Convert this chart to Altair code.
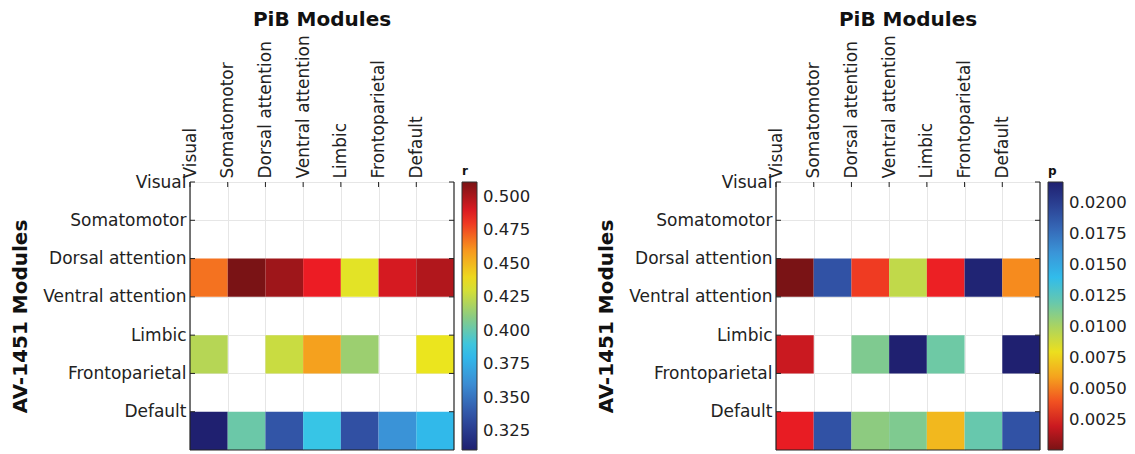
import altair as alt
import pandas as pd

# ---------------- data ----------------
modules = ["Visual", "Somatomotor", "Dorsal attention", "Ventral attention",
           "Limbic", "Frontoparietal", "Default"]
value_rows = ["Dorsal attention", "Limbic", "Default"]

# r values (AV-1451 rows x PiB columns); None = empty cell
r_dorsal = [0.468, 0.511, 0.503, 0.486, 0.434, 0.491, 0.499]
r_limbic = [0.422, None, 0.427, 0.457, 0.415, None, 0.436]
r_default = [0.311, 0.402, 0.338, 0.388, 0.336, 0.363, 0.381]

# p values
p_dorsal = [0.0001, 0.0189, 0.0035, 0.0094, 0.0029, 0.0215, 0.0053]
p_limbic = [0.0020, None, 0.0113, 0.0217, 0.0118, None, 0.0217]
p_default = [0.0027, 0.0189, 0.0109, 0.0113, 0.0067, 0.0120, 0.0189]

r_ticks = [0.325, 0.350, 0.375, 0.400, 0.425, 0.450, 0.475, 0.500]
p_ticks = [0.0025, 0.0050, 0.0075, 0.0100, 0.0125, 0.0150, 0.0175, 0.0200]
r_domain = [0.311, 0.511]
p_domain = [0.0001, 0.0217]

# jet-like colormap (as printed)
jet = ["#1f2070", "#3150a3", "#3b8fd5", "#2fc4ef", "#8dcb80",
       "#ebe51e", "#f7941e", "#ec1c24", "#7a1315"]

FONT = "DejaVu Sans"
W, H = 264, 268
idx = list(range(len(modules)))
label_expr = "[" + ",".join("'" + m + "'" for m in modules) + "][datum.value]"


def cells(rows_vals):
    recs = []
    for rname, vals in zip(value_rows, rows_vals):
        ri = modules.index(rname)
        for ci, v in enumerate(vals):
            if v is None:
                continue
            recs.append(dict(row=ri, row2=ri + 1, col=ci, col2=ci + 1, value=v))
    return pd.DataFrame(recs)


n = len(modules)
frame_df = pd.DataFrame({
    "col": [0, n, 0], "col2": [0, n, n],
    "row": [0, 0, n], "row2": [n, n, n],
})
tick_df = pd.DataFrame({"col": idx, "row": idx})

x_axis = alt.Axis(orient="top", values=idx, labelExpr=label_expr, labelAngle=270,
                  title=None, ticks=False, domain=False, grid=True,
                  gridColor="#e6e6e6", gridWidth=1, labelPadding=4,
                  labelFontSize=17, labelOverlap=False, labelFlush=False,
                  labelFont=FONT, labelColor="#222")
y_axis = alt.Axis(values=idx, labelExpr=label_expr, title="AV-1451 Modules",
                  ticks=False, domain=False, grid=True, gridColor="#e6e6e6",
                  gridWidth=1, labelPadding=4, labelFontSize=17,
                  labelOverlap=False, labelFlush=False, labelFont=FONT,
                  labelColor="#222", titleFont=FONT, titleFontSize=20,
                  titleFontWeight="bold", titlePadding=12, titleColor="#111")
xs = alt.Scale(domain=[0, n], nice=False, zero=False)
ys = alt.Scale(domain=[0, n], nice=False, zero=False, reverse=True)


def panel(df, domain, colors, ticks, fmt, ltitle):
    legend = alt.Legend(title=ltitle, orient="none", legendX=W + 8, legendY=-16,
                        direction="vertical", gradientLength=H, gradientThickness=15,
                        gradientStrokeColor="#333", gradientStrokeWidth=1,
                        values=ticks, format=fmt, labelFontSize=16.5, labelFont=FONT,
                        labelColor="#222", labelOffset=6, labelOverlap=False,
                        titleFontSize=12, titleFont=FONT, titleFontWeight="bold",
                        titlePadding=4, padding=0, titleColor="#111")
    rect = alt.Chart(df).mark_rect().encode(
        x=alt.X("col:Q", scale=xs, axis=x_axis),
        x2="col2:Q",
        y=alt.Y("row:Q", scale=ys, axis=y_axis),
        y2="row2:Q",
        color=alt.Color("value:Q",
                        scale=alt.Scale(domain=domain, range=colors, interpolate="rgb"),
                        legend=legend),
    )
    frame = alt.Chart(frame_df).mark_rule(color="#222", strokeWidth=1.2).encode(
        x=alt.X("col:Q", scale=xs, axis=x_axis), x2="col2:Q",
        y=alt.Y("row:Q", scale=ys, axis=y_axis), y2="row2:Q",
    )
    top_ticks = alt.Chart(tick_df).mark_rule(color="#222").encode(
        x=alt.X("col:Q", scale=xs, axis=x_axis), y=alt.value(0), y2=alt.value(5))
    left_ticks = alt.Chart(tick_df).mark_rule(color="#222").encode(
        y=alt.Y("row:Q", scale=ys, axis=y_axis), x=alt.value(0), x2=alt.value(5))
    right_ticks = alt.Chart(tick_df).mark_rule(color="#222").encode(
        y=alt.Y("row:Q", scale=ys, axis=y_axis), x=alt.value(W - 5), x2=alt.value(W))
    return alt.layer(rect, frame, top_ticks, left_ticks, right_ticks).properties(
        width=W, height=H,
        title=alt.TitleParams("PiB Modules", fontSize=20, fontWeight="bold",
                              font=FONT, anchor="middle", frame="group",
                              offset=5, color="#111"),
    )


left = panel(cells([r_dorsal, r_limbic, r_default]), r_domain, jet, r_ticks, ".3f", "r")
right = panel(cells([p_dorsal, p_limbic, p_default]), p_domain, list(reversed(jet)),
              p_ticks, ".4f", "p")

chart = alt.hconcat(left, right, spacing=65).resolve_scale(color="independent").configure_view(
    stroke=None).properties(padding={"left": 2, "top": 1, "right": 0, "bottom": 0})

chart.save("out.html", embed_options={"renderer": "svg", "actions": False})
